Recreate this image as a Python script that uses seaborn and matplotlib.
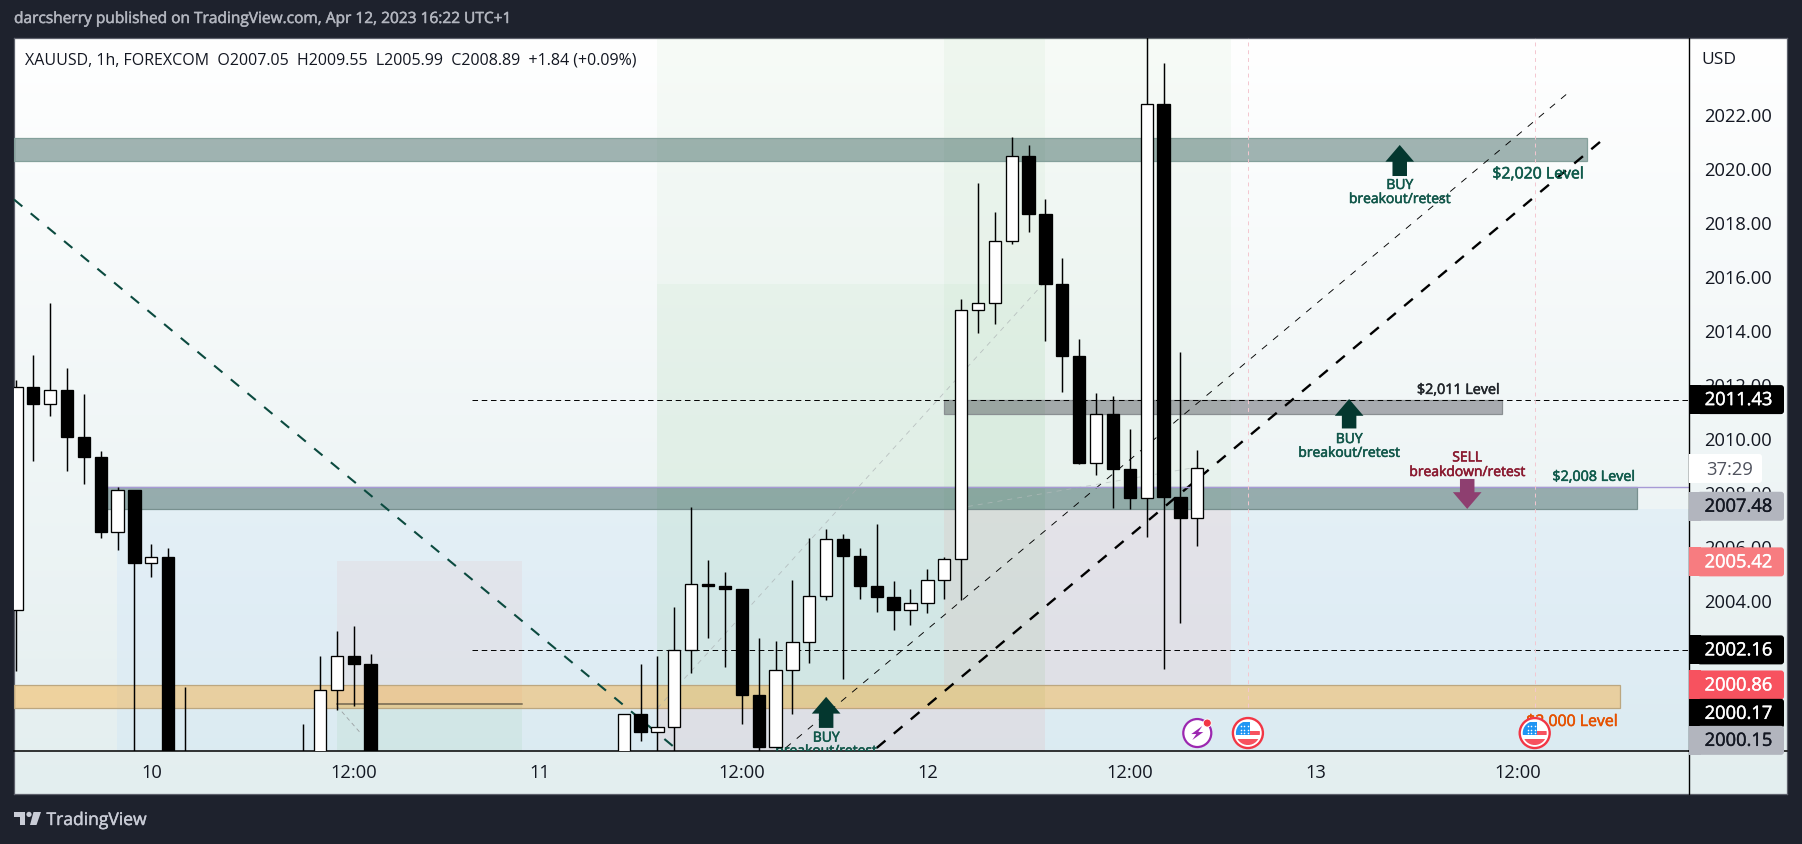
import numpy as np
import pandas as pd
import matplotlib
matplotlib.use("Agg")
import matplotlib.pyplot as plt
import matplotlib.patheffects as pe
from matplotlib.lines import Line2D
from matplotlib.patches import Rectangle, Ellipse, Polygon, Circle, FancyBboxPatch
from matplotlib.colors import LinearSegmentedColormap
import seaborn as sns

# ---------- data (hourly bars, index 0 = start of the "10" session) ----------
bar_index = [-8,-7,-6,-5,-4,-3,-2,-1,0,1,2,9,10,11,12,13,
             28,29,30,31,32,33,34,35,36,37,38,39,40,41,42,43,44,45,46,47,48,49,50,51,52,53,54,55,56,57,58,59,60,61,62]
opens  = [2003.62,2011.90,2011.26,2011.78,2010.03,2009.29,2006.51,2008.09,2005.37,2005.59,1998.0,1998.0,1998.0,2000.66,2001.92,2001.62,
          1998.0,1999.80,1999.10,1999.29,2002.14,2004.61,2004.54,2004.43,2000.50,1998.58,2001.42,2002.47,2004.17,2006.25,2005.63,2004.54,2004.13,2003.65,2003.91,2004.76,2005.51,2014.76,2015.02,2017.29,2020.44,2018.32,2015.70,2013.05,2009.09,2010.88,2008.85,2007.80,2022.36,2007.83,2007.05]
closes = [2011.90,2011.26,2011.78,2010.03,2009.29,2006.51,2008.09,2005.37,2005.59,1998.0,1998.0,1998.0,2000.66,2001.92,2001.62,1998.0,
          1999.80,1999.10,1999.29,2002.14,2004.61,2004.54,2004.43,2000.50,1998.58,2001.42,2002.47,2004.17,2006.25,2005.63,2004.54,2004.13,2003.65,2003.91,2004.76,2005.51,2014.76,2015.02,2017.29,2020.44,2018.32,2015.70,2013.05,2009.09,2010.88,2008.85,2007.80,2022.36,2007.83,2007.05,2008.89]
highs  = [2012.14,2013.08,2015.01,2012.60,2011.64,2009.51,2008.21,2008.09,2006.09,2005.95,2000.78,1999.43,2001.94,2002.86,2003.06,2002.02,
          1999.80,2001.63,2001.94,2003.75,2007.47,2005.49,2005.03,2004.43,2002.60,2002.49,2004.74,2006.31,2006.64,2006.46,2005.94,2006.82,2004.70,2004.41,2005.14,2005.60,2015.15,2019.44,2018.38,2021.16,2020.87,2018.86,2016.68,2013.68,2011.67,2011.58,2010.34,2025.20,2023.90,2013.20,2009.55]
lows   = [2001.38,2009.17,2010.82,2008.79,2008.31,2006.31,2005.87,1998.0,2004.85,1998.0,1998.0,1998.0,1998.0,1999.93,2000.08,1998.0,
          1998.0,1998.77,1998.0,1998.0,2001.31,2002.60,2001.53,1999.43,1998.0,1998.58,1999.78,2001.66,2004.02,2001.09,2004.04,2003.58,2002.90,2003.08,2003.54,2004.04,2004.00,2013.90,2014.23,2017.18,2017.64,2013.60,2011.71,2009.04,2008.63,2007.41,2007.37,2006.34,2001.46,2003.17,2005.99]

y_ticks = [2000,2002,2004,2006,2008,2010,2012,2014,2016,2018,2020,2022]
x_ticks = [0,12,23,35,46,58,69,81]
x_labels = ["10","12:00","11","12:00","12","12:00","13","12:00"]

tag_text  = ["2011.43","37:29","2007.48","2005.42","2002.16","2000.86","2000.17","2000.15"]
tag_pos   = [2011.43,2008.88,2007.48,2005.42,2002.16,2000.86,1999.81,1998.81]
tag_fill  = ["#000000","#ffffff","#b2b5be","#f77c80","#000000","#f7525f","#000000","#b2b5be"]
tag_ink   = ["#ffffff","#50535e","#131722","#ffffff","#ffffff","#ffffff","#ffffff","#131722"]

# ---------- theme ----------
sns.set_theme(style="white")
plt.rcParams["font.family"] = ["Open Sans", "DejaVu Sans"]
FONT_DARK = "#131722"
W, H = 1802, 845
L, R, T, B, XB, PR = 14, 1689.4, 38.5, 752.4, 795, 1787
XMIN, XMAX = -8.14, 91.17
YMIN, YMAX = 1998.40, 2024.84

def heavy(color, w=0.35):
    return [pe.withStroke(linewidth=w, foreground=color)]

fig = plt.figure(figsize=(W/100, H/100), dpi=100, facecolor="#1e222d")

def rect(l, t, r, b):
    return [l/W, 1-b/H, (r-l)/W, (b-t)/H]

# gradient backdrop of the whole panel
bg = fig.add_axes(rect(L, T, PR, XB), zorder=0)
cmap = LinearSegmentedColormap.from_list("bg", ["#ffffff", "#e3eeef"])
bg.imshow(np.linspace(0, 1, 256).reshape(-1, 1), aspect="auto", cmap=cmap)
bg.set_xticks([]); bg.set_yticks([])
for s in bg.spines.values():
    s.set_color("#5d606b"); s.set_linewidth(0.9)

ax = fig.add_axes(rect(L, T, R, B), zorder=1)
ax.patch.set_alpha(0)

def box(x0, x1, y0, y1, color, alpha, ec=None, z=1, lw=0.9):
    ax.add_patch(Rectangle((x0, y0), x1-x0, y1-y0, facecolor=color, alpha=alpha, edgecolor="none", zorder=z))
    if ec:
        ax.add_patch(Rectangle((x0, y0), x1-x0, y1-y0, fill=False, edgecolor=ec, linewidth=lw, zorder=z))

GREEN, PINK = (0.30, 0.69, 0.31), (0.957, 0.263, 0.212)
box(-2.05, XMAX, YMIN, 2007.38, (0.70, 0.85, 1.0), 0.17)
box(30, 53, 2000.04, YMAX, GREEN, 0.045)
box(30, 53, 2000.04, 2015.71, GREEN, 0.045)
box(47, 64, 2007.38, YMAX, GREEN, 0.045)
box(47, 64, 2000.87, 2007.38, PINK, 0.065)
box(30, 53, YMIN, 2000.04, PINK, 0.065)
box(11, 22, 2000.17, 2005.45, PINK, 0.05)
box(11, 22, YMIN, 2000.17, GREEN, 0.07)

box(XMIN, 85.08, 2020.27, 2021.12, (0, 0.2, 0.18), 0.36, "#84a09b", z=2)
box(47.01, 80.05, 2010.91, 2011.41, (0.157, 0.157, 0.196), 0.36, "#8a8f92", z=2)
box(-2.64, 88.04, 2007.36, 2008.19, (0, 0.2, 0.2), 0.37, "#78908f", z=2)
box(XMIN, 87.04, 2000.02, 2000.87, (1.0, 0.596, 0.0), 0.34, "#bca780", z=2)

def seg(xs, ys, color, lw, dash, z=3, alpha=1.0):
    d = pd.DataFrame({"x": xs, "y": ys})
    sns.lineplot(data=d, x="x", y="y", color=color, linewidth=lw, ax=ax, sort=False,
                 estimator=None, zorder=z, alpha=alpha, legend=False, dashes=False,
                 linestyle=(0, dash) if dash else "-")

seg([-8.14, 31.2], [2018.84, 1998.45], "#0b4a3f", 1.5, (5.2, 5.2))
seg([43, 86], [1998.53, 2021.04], "#000000", 1.7, (4.8, 4.6))
seg([37.6, 84], [1998.53, 2022.8], "#000000", 0.65, (7.5, 8.5))
seg([30, 52.85], [2000, 2015.71], "#a8adb0", 0.6, (6, 6), alpha=0.7)
seg([48.4, 62], [2007.47, 2008.93], "#b5bdbd", 0.6, (6, 6), alpha=0.7)
seg([11, 12.4], [2000.08, 1999.08], "#9a9fa2", 0.6, (5, 4))
seg([19, XMAX], [2011.43, 2011.43], "#000000", 0.7, (5.7, 3.8))
seg([19, XMAX], [2002.16, 2002.16], "#000000", 0.7, (5.7, 3.8))
seg([-2.64, XMAX], [2008.19, 2008.19], "#a79ad6", 1.0, None)
seg([11, 22], [2000.17, 2000.17], "#8a7a5e", 1.4, None)
seg([65, 65], [2000.05, YMAX], "#f4c6cf", 0.7, (4, 4))
seg([82, 82], [2000.05, YMAX], "#f4c6cf", 0.7, (4, 4))

# candles
wick = pd.DataFrame({"bar": bar_index*2, "x": bar_index*2, "y": highs+lows})
sns.lineplot(data=wick, x="x", y="y", units="bar", estimator=None, color="black",
             linewidth=1.05, ax=ax, legend=False, zorder=5, sort=False, solid_capstyle="butt")
o, c, bi = np.array(opens), np.array(closes), np.array(bar_index)
ax.bar(bi, np.abs(c-o), bottom=np.minimum(o, c), width=0.73,
       color=np.where(c >= o, "white", "black"), edgecolor="black", linewidth=0.95, zorder=6)

# arrows
def arrow(x, tip, base, color):
    s = 1 if tip > base else -1
    neck = tip - s*0.62
    hw, sw = 0.85, 0.43
    ax.fill([x, x+hw, x+sw, x+sw, x-sw, x-sw, x-hw], [tip, neck, neck, base, base, neck, neck],
            color=color, lw=0, zorder=4)

TEAL, SELLC = "#04372f", "#8e3f70"
arrow(74, 2020.86, 2019.71, TEAL)
arrow(71, 2011.45, 2010.36, TEAL)
arrow(40, 2000.42, 1999.27, TEAL)
arrow(78, 2007.38, 2008.49, SELLC)

def label(x, y, s, color, size):
    ax.text(x, y - 0.09, s, color=color, ha="center", va="center", fontsize=size, clip_on=True, zorder=4,
            path_effects=heavy(color, 0.4))

G2 = "#11574a"
label(74, 2019.45, "BUY", G2, 10.0)
label(74, 2018.93, "breakout/retest", G2, 10.0)
label(71, 2010.04, "BUY", G2, 10.0)
label(71, 2009.53, "breakout/retest", G2, 10.0)
label(40, 1998.98, "BUY", G2, 10.0)
label(40, 1998.49, "breakout/retest", G2, 10.0)
label(78, 2009.36, "SELL", "#8a1a30", 10.0)
label(78, 2008.82, "breakdown/retest", "#8a1a30", 10.0)
label(82.2, 2019.86, "$2,020 Level", "#0f5a4b", 11.4)
label(77.46, 2011.86, "$2,011 Level", "#22262b", 10.3)
label(85.49, 2008.64, "$2,008 Level", "#0f5a4b", 10.3)
label(84.21, 1999.58, "$2,000 Level", "#e65100", 11.4)

# calendar icons
DX, DY = 1/16.87, 1/27
def flag(cx, cy):
    r = 15
    ax.add_patch(Ellipse((cx, cy), 2*r*DX, 2*r*DY, facecolor="white", edgecolor="#f23645", lw=1.7, zorder=7))
    inner = Ellipse((cx, cy), 2*(r-3)*DX, 2*(r-3)*DY, transform=ax.transData)
    for (x0, x1, y0, y1, col) in [(-13, 2, -2, 11, "#2196f3"), (2, 13, -2, 2, "#f7525f"),
                                  (-13, 13, -12, -6, "#f7525f")]:
        p = Rectangle((cx+x0*DX, cy+y0*DY), (x1-x0)*DX, (y1-y0)*DY, facecolor=col, edgecolor="none", zorder=8)
        ax.add_patch(p); p.set_clip_path(inner)
    ax.scatter([cx+a*DX for a in (-7, -3.5, 0)]*3, [cy+b*DY for b in (7, 3.5, 0) for _ in range(3)],
               s=1.3, color="white", lw=0, zorder=9)
flag(65, 1999.08)
flag(82, 1999.08)
ax.add_patch(Ellipse((62, 1999.08), 28*DX, 28*DY, facecolor="white", edgecolor="#9c27b0", lw=1.6, zorder=7))
ax.fill([62+5*DX, 62-6*DX, 62-1*DX, 62-5*DX, 62+6*DX, 62+1*DX],
        [1999.08+7*DY, 1999.08-1*DY, 1999.08-1*DY, 1999.08-7*DY, 1999.08+1*DY, 1999.08+1*DY],
        color="#9c27b0", lw=0, zorder=8)
ax.add_patch(Ellipse((62+10*DX, 1999.08+10*DY), 8*DX, 8*DY, facecolor="#f23645", edgecolor="white", lw=0.6, zorder=8))

ax.set_xlim(XMIN, XMAX)
ax.set_ylim(YMIN, YMAX)
ax.set_xlabel(""); ax.set_ylabel("")
ax.set_yticks([])
ax.set_xticks(x_ticks, x_labels)
ax.tick_params(axis="x", length=0, pad=8, labelsize=13.2, labelcolor=FONT_DARK)
for n in ["top", "left", "right"]:
    ax.spines[n].set_visible(False)
ax.spines["bottom"].set_color("black")
ax.spines["bottom"].set_linewidth(1.1)

# price scale
ar = fig.add_axes(rect(R, T, PR, B), zorder=2)
ar.patch.set_alpha(0)
ar.set_xlim(0, 1)
ar.set_ylim(YMIN, YMAX)
ar.set_xticks([])
ar.yaxis.tick_right()
ar.set_yticks(y_ticks, [f"{v:.2f}" for v in y_ticks])
ar.tick_params(axis="y", length=0, pad=-60, labelsize=13.2, labelcolor=FONT_DARK)
for n in ["top", "left", "right"]:
    ar.spines[n].set_visible(False)
ar.spines["bottom"].set_color("black")
ar.spines["bottom"].set_linewidth(1.1)
ar.text(0.305, 2024.05, "USD", ha="center", va="center", fontsize=12.5, color=FONT_DARK)

fig.add_artist(Line2D([R/W, R/W], [1-XB/H, 1-T/H], color="black", lw=1.0, zorder=3))

# chrome
ch = fig.add_axes([0, 0, 1, 1], zorder=3)
ch.set_xlim(0, W); ch.set_ylim(H, 0); ch.axis("off"); ch.patch.set_alpha(0)

def price_y(p):
    return (2026.267 - p) * 27

for t, p, f, k in zip(tag_text, tag_pos, tag_fill, tag_ink):
    timer = ":" in t
    right = 1762 if timer else 1784
    yc = price_y(p)
    ch.add_patch(FancyBboxPatch((R+8, yc-14.5), right-R-8, 29, boxstyle="round,pad=0,rounding_size=3",
                                facecolor=f, edgecolor="none", zorder=3))
    ch.add_patch(Rectangle((R, yc-14.5), 12, 29, facecolor=f, edgecolor="none", zorder=3))
    cx = 1729.5 if timer else 1738.5
    ch.text(cx, yc+0.5, t, ha="center", va="center", fontsize=13.2, color=k, zorder=4,
            path_effects=heavy(k, 0.3) if not timer else None)

ch.text(14, 20.5, "darcsherry published on TradingView.com, Apr 12, 2023 16:22 UTC+1",
        fontsize=11.15, color="#b2b5be", va="center", ha="left", path_effects=heavy("#b2b5be", 0.35))
ch.text(25, 60.5, "XAUUSD, 1h, FOREXCOM  O2007.05  H2009.55  L2005.99  C2008.89  +1.84 (+0.09%)",
        fontsize=11.56, color=FONT_DARK, va="center", ha="left")
LOGO = "#c9ccd6"
ch.add_patch(Polygon([(14, 813), (25, 813), (25, 826), (19.5, 826), (19.5, 818), (14, 818)], color=LOGO, lw=0))
ch.add_patch(Circle((29, 815.4), 2.6, color=LOGO, lw=0))
ch.add_patch(Polygon([(33.5, 813), (41, 813), (36.5, 826), (30, 826)], color=LOGO, lw=0))
ch.text(46.5, 822, "TradingView", fontsize=12.6, color=LOGO, va="center", ha="left", path_effects=heavy(LOGO, 0.3))

fig.savefig("out.png", dpi=100, facecolor=fig.get_facecolor())
